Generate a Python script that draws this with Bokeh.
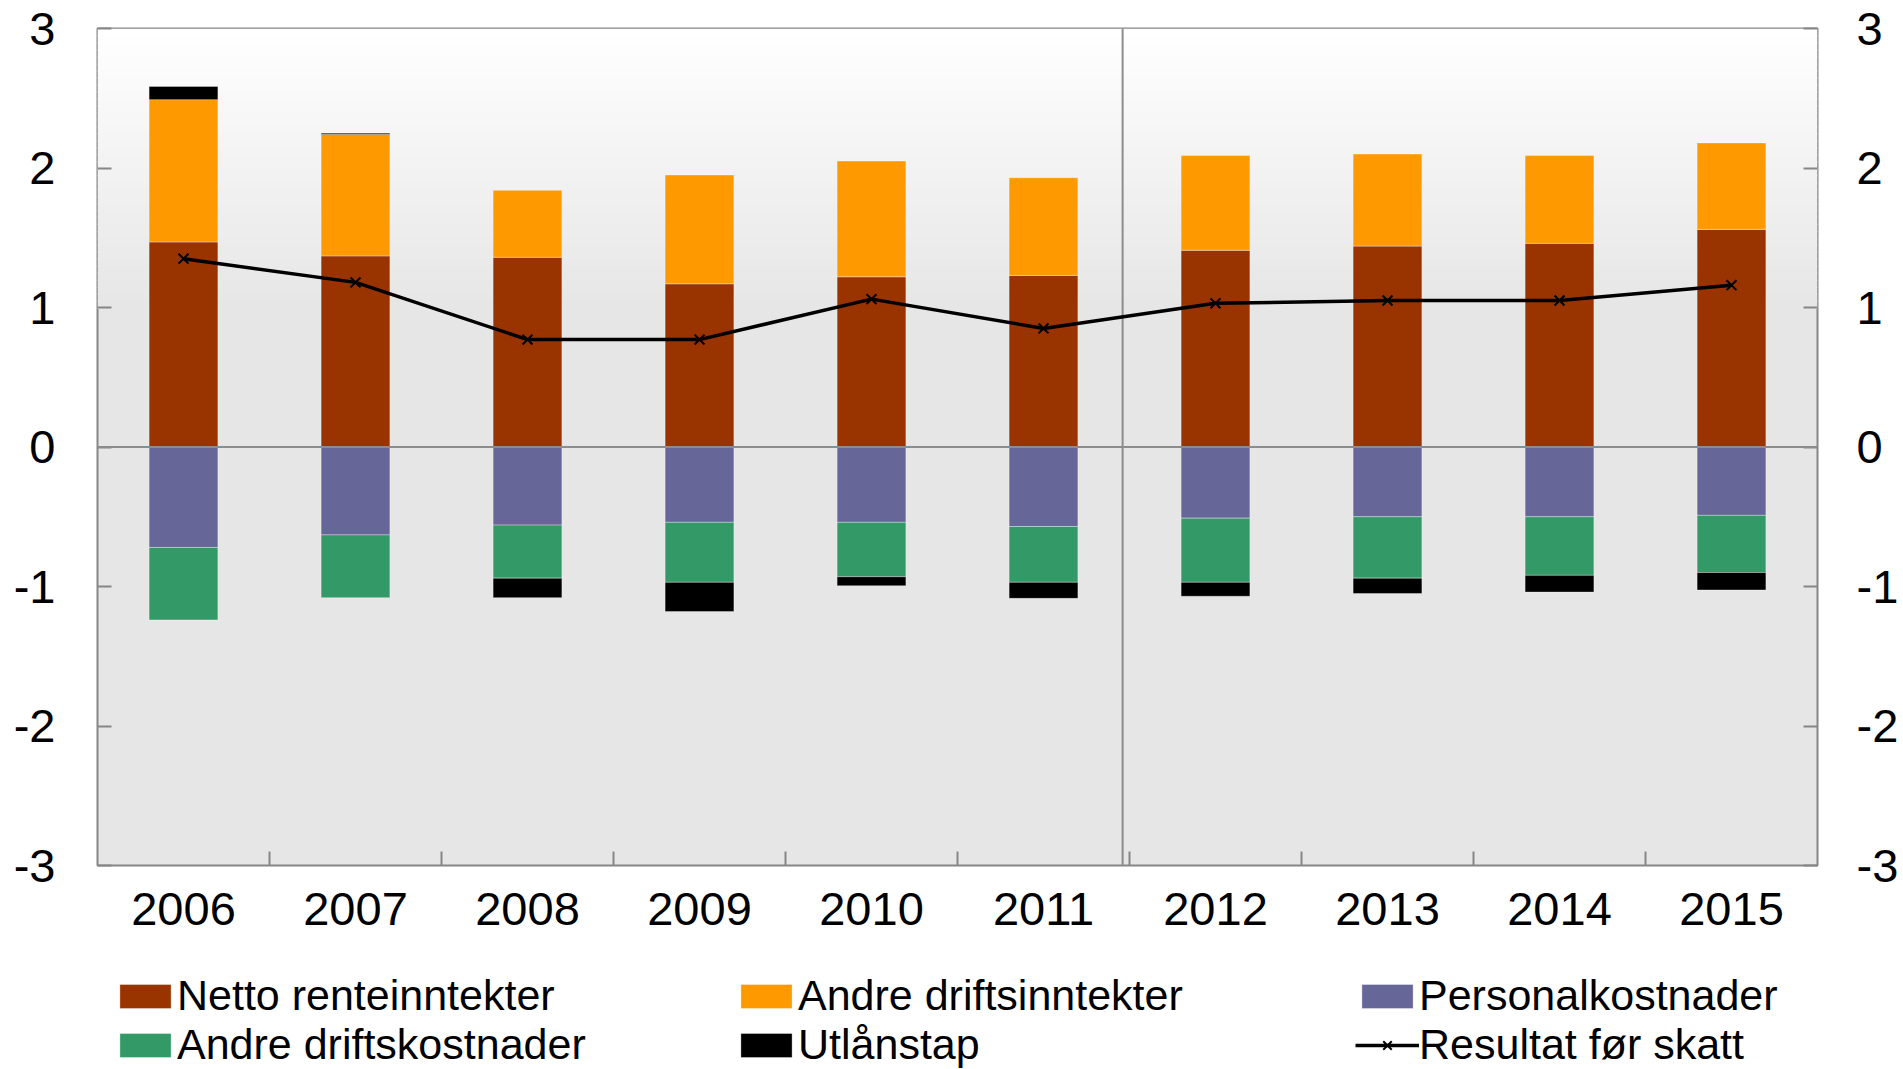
import numpy as np
from bokeh.plotting import figure
from bokeh.layouts import column
from bokeh.models import (Range1d, LinearAxis, FixedTicker, Span, BoxAnnotation,
                          Legend, LegendItem)
from bokeh.embed import file_html
from bokeh.resources import INLINE

# ---------------- data ----------------
YEARS = ["2006", "2007", "2008", "2009", "2010", "2011", "2012", "2013", "2014", "2015"]
NETTO_RENTEINNTEKTER = [1.47, 1.37, 1.36, 1.17, 1.22, 1.23, 1.41, 1.44, 1.46, 1.56]
ANDRE_DRIFTSINNTEKTER = [1.02, 0.87, 0.48, 0.78, 0.83, 0.70, 0.68, 0.66, 0.63, 0.62]
PERSONALKOSTNADER = [-0.72, -0.63, -0.56, -0.54, -0.54, -0.57, -0.51, -0.50, -0.50, -0.49]
ANDRE_DRIFTSKOSTNADER = [-0.52, -0.45, -0.38, -0.43, -0.39, -0.40, -0.46, -0.44, -0.42, -0.41]
UTLANSTAP = [0.095, 0.01, -0.14, -0.21, -0.065, -0.115, -0.10, -0.11, -0.12, -0.125]
RESULTAT_FOR_SKATT = [1.35, 1.18, 0.77, 0.77, 1.06, 0.85, 1.03, 1.05, 1.05, 1.16]
Y_TICKS = [-3, -2, -1, 0, 1, 2, 3]

SERIES = [
    ("Netto renteinntekter", NETTO_RENTEINNTEKTER, "#993300"),
    ("Andre driftsinntekter", ANDRE_DRIFTSINNTEKTER, "#FF9900"),
    ("Personalkostnader", PERSONALKOSTNADER, "#666699"),
    ("Andre driftskostnader", ANDRE_DRIFTSKOSTNADER, "#339966"),
    ("Utlånstap", UTLANSTAP, "#000000"),
]
LINE_LABEL = "Resultat før skatt"

# ---------------- style ----------------
FONT = "Liberation Sans"
GRAY = "#868686"
BAR_STYLE = dict(line_color="white", line_alpha=0.35, line_width=1)
LINE_STYLE = dict(line_color="black", line_width=3.5)
MARK_STYLE = dict(marker="x", size=14, line_color="black", line_width=2)
n = len(YEARS)
centers = np.arange(n) + 0.5
boundaries = np.arange(1, n)

p = figure(width=1903, height=965,
           x_range=Range1d(0, n), y_range=Range1d(Y_TICKS[0], Y_TICKS[-1]),
           output_backend="svg", toolbar_location=None,
           x_axis_location=None, y_axis_location=None,
           min_border_left=97, min_border_right=86, min_border_top=28, min_border_bottom=100,
           background_fill_color="#e6e6e6", border_fill_color="white",
           outline_line_color=GRAY, outline_line_width=2)
p.xgrid.grid_line_color = None
p.ygrid.grid_line_color = None

# vertical gradient of the plot area (white at top -> light gray)
G_FROM, G_TO, G_STEPS = Y_TICKS[-1], 1.0, 40
g_edges = np.linspace(G_FROM, G_TO, G_STEPS + 1)
for k in range(G_STEPS):
    t = (k + 0.5) / G_STEPS
    c = int(round(255 + (230 - 255) * t))
    p.add_layout(BoxAnnotation(top=g_edges[k], bottom=g_edges[k + 1] - 0.01,
                               fill_color="#%02x%02x%02x" % (c, c, c), fill_alpha=1.0,
                               line_alpha=0, level="underlay"))

# divider between 2011 and 2012
p.add_layout(Span(location=YEARS.index("2012") - 0.04, dimension="height",
                  line_color="#8c8c8c", line_width=2, level="underlay"))

# stacked bars (positives up, negatives down)
pos = np.zeros(n)
neg = np.zeros(n)
for name, vals, color in SERIES:
    v = np.asarray(vals, dtype=float)
    bottom = np.where(v >= 0, pos, neg + v)
    top = np.where(v >= 0, pos + v, neg)
    pos = pos + np.clip(v, 0, None)
    neg = neg + np.clip(v, None, 0)
    p.vbar(x=centers, bottom=bottom, top=top, width=0.4, fill_color=color, **BAR_STYLE)

# zero line
p.add_layout(Span(location=0, dimension="width", line_color="#8c8c8c", line_width=2))

# line for result before tax
p.line(centers, RESULTAT_FOR_SKATT, **LINE_STYLE)
p.scatter(centers, RESULTAT_FOR_SKATT, **MARK_STYLE)


def style_axis(ax, standoff):
    ax.major_label_text_font = FONT
    ax.major_label_text_font_size = "47px"
    ax.major_label_text_color = "black"
    ax.major_label_standoff = standoff
    ax.axis_line_color = None
    ax.major_tick_line_color = GRAY
    ax.major_tick_line_width = 2
    ax.major_tick_in = 14
    ax.major_tick_out = 0
    ax.minor_tick_line_color = None
    ax.minor_tick_in = 0
    ax.minor_tick_out = 0


y_labels = {t: str(t) for t in Y_TICKS}
left = LinearAxis(ticker=FixedTicker(ticks=Y_TICKS), major_label_overrides=y_labels)
style_axis(left, 42)
p.add_layout(left, "left")

right = LinearAxis(ticker=FixedTicker(ticks=Y_TICKS), major_label_overrides=y_labels)
style_axis(right, 39)
p.add_layout(right, "right")

# bottom: year labels at category centres, tick marks on category boundaries
bottom_axis = LinearAxis(
    ticker=FixedTicker(ticks=[float(c) for c in centers],
                       minor_ticks=[float(b) for b in boundaries]),
    major_label_overrides={float(c): y for c, y in zip(centers, YEARS)})
style_axis(bottom_axis, 27)
bottom_axis.major_tick_line_color = None
bottom_axis.major_tick_in = 0
bottom_axis.minor_tick_line_color = GRAY
bottom_axis.minor_tick_line_width = 2
bottom_axis.minor_tick_in = 14
p.add_layout(bottom_axis, "below")

# ---------------- legend strip ----------------
lg = figure(width=1903, height=104, output_backend="svg", toolbar_location=None,
            x_range=Range1d(0, 1), y_range=Range1d(0, 1),
            x_axis_location=None, y_axis_location=None,
            min_border_left=97, min_border_right=86, min_border_top=0, min_border_bottom=0,
            outline_line_color=None, background_fill_color="white",
            border_fill_color="white")
lg.xgrid.grid_line_color = None
lg.ygrid.grid_line_color = None

NO_POINT = np.array([np.nan])  # legend keys only: nothing is drawn in the strip
items = []
for name, vals, color in SERIES:
    r = lg.vbar(x=NO_POINT, top=NO_POINT, width=0.4, fill_color=color, **BAR_STYLE)
    items.append(LegendItem(label=name, renderers=[r]))
lr = lg.line(x=NO_POINT, y=NO_POINT, **LINE_STYLE)
sr = lg.scatter(x=NO_POINT, y=NO_POINT, **MARK_STYLE)
items.append(LegendItem(label=LINE_LABEL, renderers=[lr, sr]))

legend = Legend(items=items, location=(16, 0), orientation="horizontal", ncols=3,
                glyph_width=64, glyph_height=30, label_standoff=0,
                label_width=557, label_height=46, spacing=0, padding=0, margin=0,
                border_line_color=None, background_fill_alpha=0,
                label_text_font=FONT, label_text_font_size="43px",
                label_text_color="black")
lg.add_layout(legend, "center")

layout = column(p, lg, spacing=0)
open("out.html", "w").write(file_html(layout, INLINE))
